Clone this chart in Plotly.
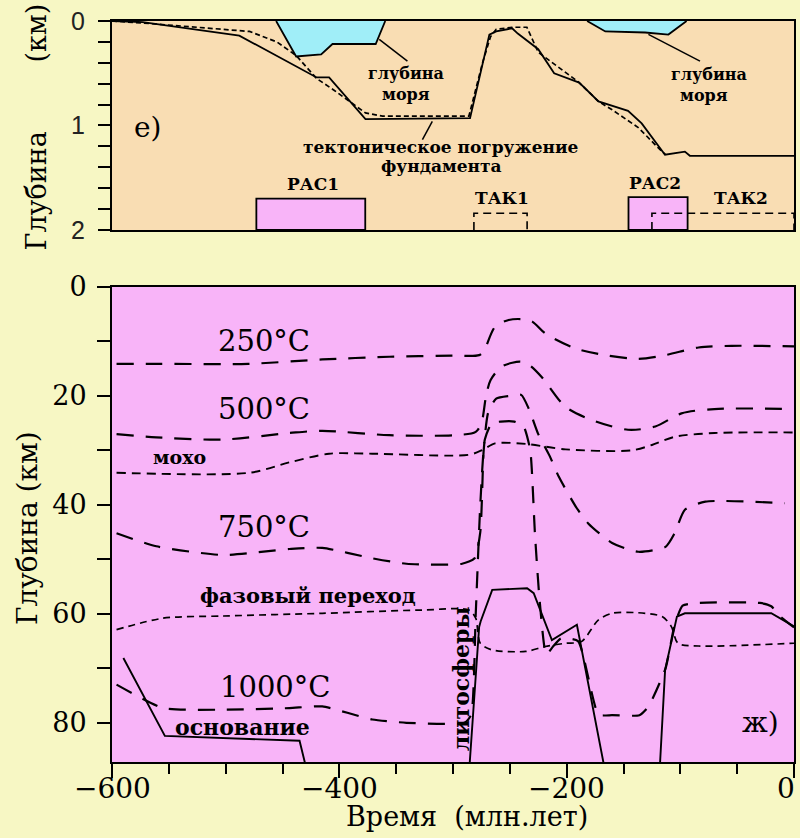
import plotly.graph_objects as go

# ---------------- top panel (е): depth, km ----------------
top_solid_t = [-600, -573, -488, -420, -409, -377, -285, -268, -262, -248, -243, -237, -225, -211, -189, -172, -146, -134, -113.5, -96, -91.6, 0]
top_solid_d = [0.00, 0.01, 0.14, 0.54, 0.54, 0.94, 0.93, 0.13, 0.10, 0.07, 0.12, 0.17, 0.27, 0.50, 0.59, 0.77, 0.86, 0.98, 1.28, 1.25, 1.29, 1.29]
top_dash_t = [-600, -572, -479, -455, -438, -420, -405, -377, -362, -286, -274, -267, -262, -248, -235, -225, -190, -172, -160, -137, -118, -113]
top_dash_d = [0.00, 0.02, 0.10, 0.20, 0.33, 0.55, 0.66, 0.88, 0.91, 0.91, 0.40, 0.15, 0.08, 0.06, 0.06, 0.30, 0.58, 0.77, 0.85, 1.02, 1.23, 1.28]
sea1_t = [-455.6, -438, -416, -406, -368, -359.6]
sea1_d = [0.0, 0.34, 0.32, 0.22, 0.22, 0.0]
sea2_t = [-182, -166, -131, -110.5, -94.5]
sea2_d = [0.0, 0.10, 0.11, 0.13, 0.0]
pac_names = ["РАС1", "РАС2"]
pac_start = [-473, -145.6]
pac_end = [-377.2, -93.6]
pac_top = [1.70, 1.685]
tak_names = ["ТАК1", "ТАК2"]
tak_start = [-281.6, -125]
tak_end = [-234.8, 0]
tak_top = [1.84, 1.84]

# ---------------- bottom panel (ж): depth, km ----------------
iso250_t = [-596, -560, -480, -415, -356, -300, -277, -273, -263, -251, -239, -230, -219, -192, -166, -137, -113, -84, -55, 0]
iso250_d = [14.1, 14.1, 14.1, 13.3, 12.8, 12.6, 12.5, 11.8, 7.3, 6.05, 5.9, 6.4, 8.5, 11.3, 12.5, 13.2, 12.5, 11.1, 10.8, 10.9]
iso500_t = [-596, -561, -502, -444, -415, -356, -298, -280, -275, -271, -267, -257, -241, -233, -222, -201, -178, -146, -122, -99, -70, 0]
iso500_d = [27.0, 27.6, 28.0, 26.8, 26.4, 27.2, 27.2, 26.6, 25.0, 20.1, 17.1, 14.6, 13.7, 14.3, 16.5, 22.0, 24.4, 26.2, 25.6, 23.2, 22.4, 22.4]
iso750_t = [-596, -561, -502, -444, -415, -371, -341, -292, -281, -276, -273, -269, -262, -250, -240, -233, -225, -215, -207, -192, -181, -160, -137, -113, -105, -96, -78, -8]
iso750_d = [45.2, 47.6, 49.2, 48.1, 47.9, 49.8, 50.8, 50.8, 49.8, 45.0, 30.0, 23.0, 20.5, 20.0, 19.8, 22.5, 27.0, 31.0, 34.8, 40.3, 43.4, 47.0, 48.6, 47.7, 45.2, 40.9, 39.4, 39.7]
iso1000_t = [-596, -555, -502, -444, -415, -371, -341, -290, -284, -280, -276, -272, -266, -258, -246, -238, -232, -228, -224, -218, -212, -205, -190, -172, -160, -136, -128, -113, -105, -98, -85, -30, -20, -12, 0]
iso1000_d = [73.0, 77.3, 77.6, 77.3, 77.0, 79.4, 80.0, 80.0, 78.5, 60.0, 40.0, 28.0, 25.0, 24.7, 24.7, 25.5, 30.0, 45.0, 57.0, 67.5, 66.0, 64.5, 65.0, 78.5, 78.6, 78.6, 77.0, 70.0, 62.0, 58.5, 58.0, 58.0, 58.6, 60.5, 62.5]
moho_t = [-596, -479, -444, -409, -371, -286, -274, -263, -236, -201, -143, -125, -105, -70, 0]
moho_d = [34.1, 34.1, 32.2, 30.6, 30.6, 30.8, 29.9, 28.7, 28.8, 29.8, 30.0, 29.0, 27.5, 26.8, 26.7]
phase_t = [-596, -555, -502, -415, -327, -286, -280, -276, -266, -236, -219, -201, -187, -172, -160, -137, -116, -108, -102, -84, 0]
phase_d = [62.9, 60.8, 60.4, 59.9, 59.3, 59.3, 60.8, 65.4, 66.6, 66.9, 66.0, 65.4, 65.1, 61.1, 59.9, 59.8, 60.5, 62.3, 65.4, 65.9, 65.4]
base_t = [-590, -553.5, -435, -429.5, None, -285.5, -277, -275.7, -265.5, -234.8, -229, -213, -191, -167, None, -118, -113.4, -103, -96, -20, 0]
base_d = [68.1, 82.4, 83.3, 88.0, None, 88.0, 62.4, 61.4, 55.6, 55.3, 56.2, 64.8, 62.0, 88.0, None, 88.0, 70.3, 60.5, 59.9, 59.9, 62.3]

x_tick_vals = [-600, -400, -200, 0]
x_tick_text = ["\u2212600", "\u2212400", "\u2212200", "0"]
top_y_ticks = [0, 1, 2]
bot_y_ticks = [0, 20, 40, 60, 80]

BG = "#F7F7C4"
PEACH = "#F9DDB3"
PINK = "#F8B4F8"
CYAN = "#A0EEF8"
SERIF = "DejaVu Serif"
LAB = "DejaVu Serif"

fig = go.Figure()

def add(x, y, axes, dash="solid", width=1.8, shape="linear", fill=None, fillcolor=None, smoothing=None):
    line = dict(color="black", width=width, dash=dash, shape=shape)
    if smoothing is not None:
        line["smoothing"] = smoothing
    fig.add_trace(go.Scatter(x=x, y=y, mode="lines", line=line, fill=fill, fillcolor=fillcolor,
                             xaxis=axes[0], yaxis=axes[1], showlegend=False, hoverinfo="skip"))

TOP = ("x", "y")
BOT = ("x2", "y2")

# sea depth polygons
add(sea1_t, sea1_d, TOP, fill="toself", fillcolor=CYAN)
add(sea2_t, sea2_d, TOP, fill="toself", fillcolor=CYAN)
# subsidence curves
add(top_dash_t, top_dash_d, TOP, dash="5px,3px", width=1.7)
add(top_solid_t, top_solid_d, TOP, width=1.8)
# РАС / ТАК boxes
for s, e, t in zip(pac_start, pac_end, pac_top):
    add([s, s, e, e, s], [2, t, t, 2, 2], TOP, fill="toself", fillcolor=PINK)
for s, e, t in zip(tak_start, tak_end, tak_top):
    add([s, s, e, e], [2, t, t, 2], TOP, dash="8px,5px", width=1.6)

# bottom panel curves
LD = "17px,12px"
add(iso250_t, iso250_d, BOT, dash=LD, width=2.2, shape="spline", smoothing=0.8)
add(iso500_t, iso500_d, BOT, dash=LD, width=2.2, shape="spline", smoothing=0.8)
add(iso750_t, iso750_d, BOT, dash=LD, width=2.2, shape="spline", smoothing=0.6)
add(iso1000_t, iso1000_d, BOT, dash=LD, width=2.2, shape="spline", smoothing=0.5)
add(moho_t, moho_d, BOT, dash="9px,6px", width=1.9, shape="spline", smoothing=0.8)
add(phase_t, phase_d, BOT, dash="7px,5px", width=1.7, shape="spline", smoothing=0.8)
add(base_t, base_d, BOT, width=1.9)

ann = []
def txt(x, y, s, axes, size, family=LAB, bold=True, angle=0, xref=None, yref=None, xanchor="center", xshift=0):
    if bold:
        s = "<b>" + s + "</b>"
    ann.append(dict(x=x, y=y, xref=xref or axes[0], yref=yref or axes[1], text=s, showarrow=False,
                    font=dict(family=family, size=size, color="black"), textangle=angle,
                    xanchor=xanchor, yanchor="middle", xshift=xshift))

# top labels
txt(-341.2, 0.50, "глубина", TOP, 16)
txt(-341.2, 0.70, "моря", TOP, 16)
txt(-74.6, 0.51, "глубина", TOP, 16)
txt(-79.0, 0.71, "моря", TOP, 16)
txt(-310.5, 1.21, "тектоническое погружение", TOP, 17)
txt(-310.5, 1.39, "фундамента", TOP, 17)
txt(-568.4, 1.02, "е)", TOP, 28, family=SERIF, bold=False)
txt(-422.8, 1.56, pac_names[0], TOP, 17)
txt(-121.9, 1.55, pac_names[1], TOP, 17)
txt(-257.0, 1.69, tak_names[0], TOP, 17)
txt(-46.5, 1.69, tak_names[1], TOP, 17)

# bottom labels
txt(-466.7, 10.0, "250°C", BOT, 29, family=SERIF, bold=False)
txt(-466.7, 22.4, "500°C", BOT, 29, family=SERIF, bold=False)
txt(-466.7, 44.0, "750°C", BOT, 29, family=SERIF, bold=False)
txt(-456.0, 73.4, "1000°C", BOT, 29, family=SERIF, bold=False)
txt(-540.4, 31.2, "мохо", BOT, 19)
txt(-428.0, 56.7, "фазовый переход", BOT, 21)
txt(-485.0, 80.7, "основание", BOT, 22)
txt(-293.3, 71.9, "литосферы", BOT, 22, angle=-90)
txt(-29.8, 80.0, "ж)", BOT, 28, family=SERIF, bold=False)

# x tick labels of the lower panel
for v, s in zip(x_tick_vals, x_tick_text):
    if v == x_tick_vals[-1]:
        txt(v, -0.036, s, BOT, 28, family=SERIF, bold=False, yref="paper", xanchor="right", xshift=3)
    else:
        txt(v, -0.036, s, BOT, 28, family=SERIF, bold=False, yref="paper")

# axis titles
ann.append(dict(x=-0.11, y=0.8576, xref="paper", yref="paper",
                text="Глубина" + "&nbsp;" * 8 + "(км)",
                showarrow=False, textangle=-90, font=dict(family=SERIF, size=27, color="black"),
                xanchor="center", yanchor="middle"))
ann.append(dict(x=-0.123, y=0.316, xref="paper", yref="paper", text="Глубина&nbsp;(км)",
                showarrow=False, textangle=-90, font=dict(family=SERIF, size=28, color="black"),
                xanchor="center", yanchor="middle"))
ann.append(dict(x=0.521, y=-0.074, xref="paper", yref="paper", text="Время&nbsp;&nbsp;(млн.лет)",
                showarrow=False, font=dict(family=SERIF, size=27, color="black"),
                xanchor="center", yanchor="middle"))

shapes = [
    dict(type="rect", xref="x domain", yref="y domain", x0=0, x1=1, y0=0, y1=1,
         fillcolor=PEACH, line=dict(width=0), layer="below"),
    dict(type="line", xref="x", yref="y", x0=-364.9, y0=0.176, x1=-340.1, y1=0.384,
         line=dict(color="black", width=1.5)),
    dict(type="line", xref="x", yref="y", x0=-128.1, y0=0.128, x1=-82.7, y1=0.384,
         line=dict(color="black", width=1.5)),
    dict(type="line", xref="x", yref="y", x0=-318.2, y0=0.96, x1=-326.9, y1=1.135,
         line=dict(color="black", width=1.5)),
]

axis_common = dict(showline=True, mirror=True, linecolor="black", linewidth=2,
                   showgrid=False, zeroline=False)

fig.update_layout(
    width=800, height=838,
    margin=dict(l=112, r=4, t=21, b=76),
    paper_bgcolor=BG, plot_bgcolor=PINK,
    showlegend=False,
    xaxis=dict(domain=[0, 1], range=[-600, 0], anchor="y", showticklabels=False, ticks="", **axis_common),
    yaxis=dict(domain=[0.718, 1.0], range=[2, 0], anchor="x", tickvals=top_y_ticks,
               ticks="outside", ticklen=12, tickwidth=1.5, tickcolor="black",
               minor=dict(dtick=0.2, ticks="outside", ticklen=12, tickwidth=1.5, tickcolor="black"),
               tickfont=dict(family="Liberation Sans", size=25, color="#222"),
               ticklabelstandoff=8, **axis_common),
    xaxis2=dict(domain=[0, 1], range=[-600, 0], anchor="y2", tickvals=x_tick_vals,
                showticklabels=False,
                ticks="outside", ticklen=14, tickwidth=1.5, tickcolor="black",
                minor=dict(dtick=50, ticks="outside", ticklen=10, tickwidth=1.5, tickcolor="black"),
                **axis_common),
    yaxis2=dict(domain=[0, 0.641], range=[87.2, 0], anchor="x2", tickvals=bot_y_ticks,
                ticks="outside", ticklen=13, tickwidth=1.5, tickcolor="black",
                minor=dict(dtick=10, ticks="outside", ticklen=13, tickwidth=1.5, tickcolor="black"),
                tickfont=dict(family=SERIF, size=27, color="black"), ticklabelstandoff=5, **axis_common),
    annotations=ann,
    shapes=shapes,
)

fig.write_html("out.html")
